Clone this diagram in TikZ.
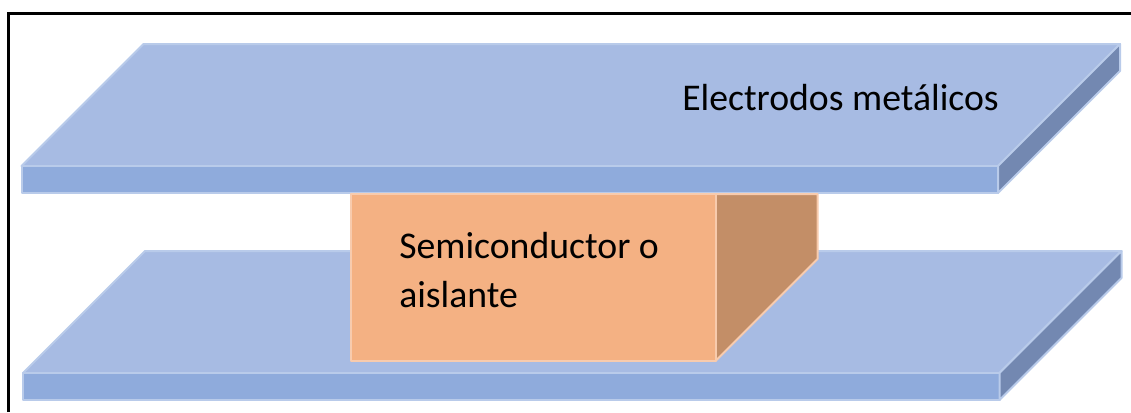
\documentclass[tikz,border=0pt]{standalone}
\usepackage{fontspec}
\setmainfont{Carlito}
\definecolor{platetop}{HTML}{A7BBE3}
\definecolor{platefront}{HTML}{8FABDC}
\definecolor{plateside}{HTML}{7388B1}
\definecolor{plateedge}{HTML}{B9CBEA}
\definecolor{blockfront}{HTML}{F4B183}
\definecolor{blockside}{HTML}{C38E67}
\definecolor{blockedge}{HTML}{F8CBAD}
\tikzset{
  plate/.style={draw=plateedge, line width=1.5pt, line join=round},
  block/.style={draw=blockedge, line width=1.5pt, line join=round},
  etiqueta/.style={inner sep=0pt, anchor=base west, font=\fontsize{28.3}{36.75}\selectfont, align=left, text=black}
}
\begin{document}
\begin{tikzpicture}[x=0.75pt, y=-0.75pt]
        \useasboundingbox (0,0) rectangle (1131,412);
        \draw[line width=2pt] (8.5,412) -- (8.5,13.5) -- (1131,13.5);
        % placas: desplazamiento en x, en y
        \foreach \dx/\dy in {0/0, 1.5/207} {
          \begin{scope}[shift={(\dx*0.75pt,-\dy*0.75pt)}]
            \draw[plate, fill=platetop] (21.5,166) -- (143.5,44) -- (1120,44) -- (998,166) -- cycle;
            \draw[plate, fill=platefront] (21.5,166) rectangle (998,193);
            \draw[plate, fill=plateside] (998,166) -- (1120,44) -- (1120,71) -- (998,193) -- cycle;
          \end{scope}
        }
        \draw[block, fill=blockside] (715.5,194) -- (817.5,194) -- (817.5,259) -- (715.5,361) -- cycle;
        \draw[block, fill=blockfront] (351,194) rectangle (715.5,361);
        \node[etiqueta] (electrodos) at (682,110) {Electrodos metálicos};
        \node[etiqueta] (semiconductor) at (399,258) {Semiconductor o};
        \node[etiqueta] (aislante) at (399,307) {aislante};
    \end{tikzpicture}
\end{document}
